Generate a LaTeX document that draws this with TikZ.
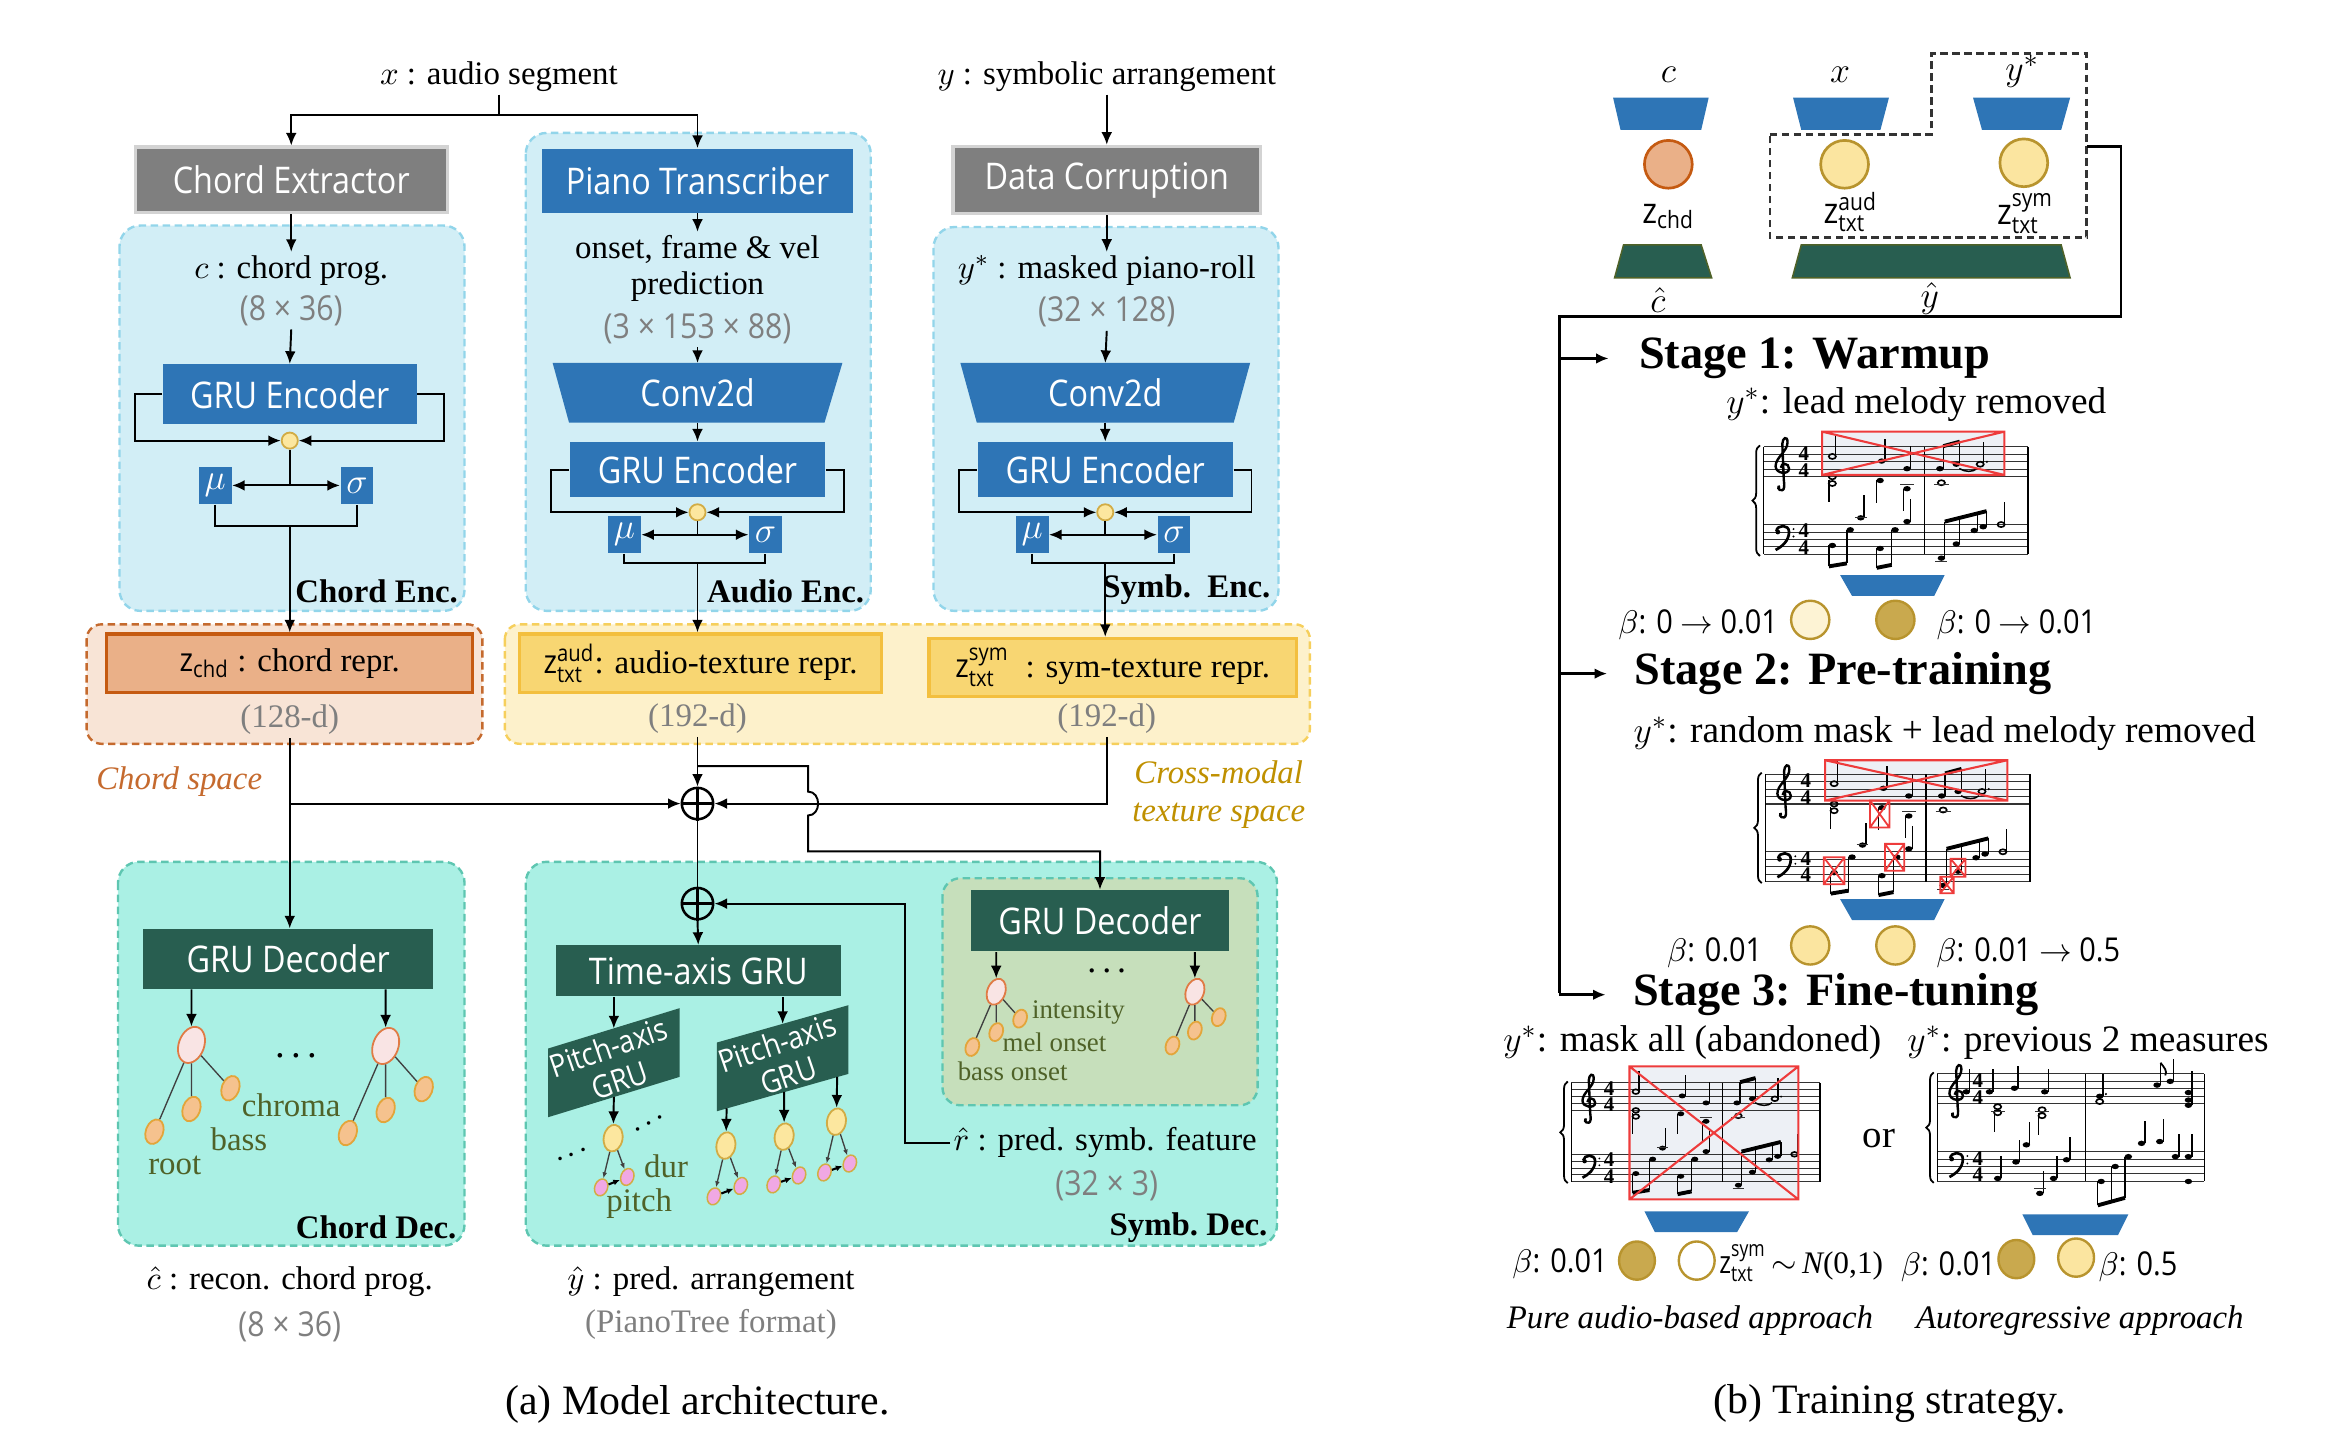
\documentclass[tikz,border=0pt]{standalone}
\usepackage{amsmath}
\usepackage{fontspec}
\setmainfont{Liberation Serif}
\newfontfamily\sg{Open Sans}[FakeStretch=0.88]
\newfontfamily\sgc{Open Sans}[FakeStretch=0.8]
\usetikzlibrary{arrows.meta,decorations.pathreplacing,shapes.geometric,calc}

\definecolor{cgray}{HTML}{7F7F7F}
\definecolor{cgrayb}{HTML}{D3D3D3}
\definecolor{cblue}{HTML}{2E75B6}
\definecolor{encfill}{HTML}{D2EEF6}
\definecolor{encline}{HTML}{92D5EA}
\definecolor{chdfill}{HTML}{F8E4D6}
\definecolor{chdline}{HTML}{C56A2E}
\definecolor{chdbox}{HTML}{EAB088}
\definecolor{chdboxb}{HTML}{C55A11}
\definecolor{txtfill}{HTML}{FDF1CB}
\definecolor{txtline}{HTML}{F6CF5C}
\definecolor{txtbox}{HTML}{F8D672}
\definecolor{txtboxb}{HTML}{F3BF3E}
\definecolor{decfill}{HTML}{AAF0E4}
\definecolor{decline}{HTML}{5EC6B1}
\definecolor{dgreen}{HTML}{285E50}
\definecolor{innerfill}{HTML}{C6DFBB}
\definecolor{rootfill}{HTML}{F9E4E4}
\definecolor{rootline}{HTML}{E07B45}
\definecolor{leaffill}{HTML}{F5C28E}
\definecolor{leafline}{HTML}{E3A53A}
\definecolor{notefill}{HTML}{FCE79F}
\definecolor{noteline}{HTML}{D2AC45}
\definecolor{pinkfill}{HTML}{F0A8E4}
\definecolor{olive}{HTML}{4F6228}
\definecolor{goldtxt}{HTML}{BF9000}
\definecolor{dimgray}{HTML}{7F7F7F}
\definecolor{goldc}{HTML}{C9A94E}
\definecolor{goldcb}{HTML}{B8942E}
\definecolor{paley}{HTML}{FDF3D4}
\definecolor{midy}{HTML}{FBE5A0}
\definecolor{redx}{HTML}{EE3B3B}
\definecolor{maskfill}{HTML}{EDF0F5}

\tikzset{
 ln/.style={line width=0.65pt},
 arr/.style={ln,-{Latex[length=4.2pt,width=3.6pt]}},
 bfont/.style={font=\sg\fontsize{12.3}{14}\selectfont},
 graybox/.style={bfont, fill=cgray, draw=cgrayb, line width=1.1pt, text=white, inner sep=0},
 bluebox/.style={bfont, fill=cblue, text=white, inner sep=0},
 greenbox/.style={bfont, fill=dgreen, text=white, inner sep=0},
 txt/.style={font=\fontsize{11}{13}\selectfont, inner sep=1pt},
 dim/.style={font=\sg\fontsize{11.5}{13}\selectfont, text=dimgray, inner sep=1pt},
 sdim/.style={font=\fontsize{11}{13}\selectfont, text=dimgray, inner sep=1pt},
 blabel/.style={font=\bfseries\fontsize{11}{13}\selectfont, inner sep=1pt},
 encpanel/.style={fill=encfill, draw=encline, dash pattern=on 2.5pt off 1.5pt, line width=0.8pt, rounded corners=7pt},
 chdpanel/.style={fill=chdfill, draw=chdline, dash pattern=on 2.5pt off 1.5pt, line width=0.8pt, rounded corners=5pt},
 txtpanel/.style={fill=txtfill, draw=txtline, dash pattern=on 2.5pt off 1.5pt, line width=0.8pt, rounded corners=5pt},
 decpanel/.style={fill=decfill, draw=decline, dash pattern=on 2.5pt off 1.5pt, line width=0.8pt, rounded corners=7pt},
 innerpanel/.style={fill=innerfill, draw=decline, dash pattern=on 2.5pt off 1.5pt, line width=0.8pt, rounded corners=6pt},
 dotc/.style={circle, fill=notefill, draw=noteline, line width=0.6pt, minimum size=5.4pt, inner sep=0},
 musig/.style={fill=cblue, text=white, minimum width=11pt, minimum height=12.5pt, inner sep=0, font=\fontsize{13}{13}\selectfont},
 zchdbox/.style={fill=chdbox, draw=chdboxb, line width=1.1pt, inner sep=0, font=\fontsize{11}{13}\selectfont},
 ztxtbox/.style={fill=txtbox, draw=txtboxb, line width=1.1pt, inner sep=0, font=\fontsize{11}{13}\selectfont},
 oplus/.style={circle, draw, line width=0.85pt, minimum size=10.5pt, inner sep=0},
 rootn/.style={ellipse, fill=rootfill, draw=rootline, line width=0.6pt, minimum width=8.5pt, minimum height=12.5pt, inner sep=0, rotate=-20},
 leafn/.style={ellipse, fill=leaffill, draw=leafline, line width=0.6pt, minimum width=5.8pt, minimum height=8.5pt, inner sep=0, rotate=-20},
 srootn/.style={rootn, minimum width=6pt, minimum height=9pt},
 sleafn/.style={leafn, minimum width=4.4pt, minimum height=6.2pt},
 yn/.style={ellipse, fill=notefill, draw=noteline, line width=0.6pt, minimum width=6.3pt, minimum height=9pt, inner sep=0, rotate=-10},
 pn/.style={ellipse, fill=pinkfill, draw=noteline, line width=0.5pt, minimum width=4.3pt, minimum height=5.8pt, inner sep=0, rotate=-20},
 tline/.style={line width=0.45pt, draw=black!75},
 olab/.style={text=olive, inner sep=0, font=\fontsize{11}{12}\selectfont},
 slab/.style={text=olive, inner sep=0, font=\fontsize{9}{10}\selectfont},
 stage/.style={font=\bfseries\fontsize{15.5}{17}\selectfont, inner sep=0, anchor=west},
 rtxt/.style={font=\fontsize{12.5}{14}\selectfont, inner sep=1pt},
 beta/.style={font=\sg\fontsize{11}{13}\selectfont, inner sep=0},
 bigc/.style={circle, minimum size=16pt, line width=0.9pt, inner sep=0},
 smc/.style={circle, minimum size=12.8pt, line width=0.8pt, inner sep=0},
 smce/.style={ellipse, minimum width=12pt, minimum height=12.8pt, line width=0.8pt, inner sep=0},
 staffln/.style={line width=0.35pt, draw=black!80},
 barln/.style={line width=0.5pt},
 stemln/.style={line width=0.45pt},
 tsig/.style={font=\bfseries\fontsize{7}{4.6}\selectfont, inner sep=0, align=center},
 redln/.style={draw=redx, line width=0.7pt},
}

\newcommand\mnF[2]{\fill (#1,#2) ellipse [x radius=2.5, y radius=1.8];}
\newcommand\mnU[2]{\mnF{#1}{#2}\draw[stemln] (#1,#2) ++(2.3,0) -- ++(0,-15);}
\newcommand\mnD[2]{\mnF{#1}{#2}\draw[stemln] (#1,#2) ++(-2.3,0) -- ++(0,15);}
\newcommand\mnO[2]{\draw[line width=0.55pt] (#1,#2) ellipse [x radius=2.4, y radius=1.7];}
\newcommand\mnOU[2]{\mnO{#1}{#2}\draw[stemln] (#1,#2) ++(2.3,0) -- ++(0,-15);}

\newcommand\grandstaff[2]{%
 \foreach \ii in {0,...,4}{\draw[staffln] (0,\ii*5) -- (#1,\ii*5); \draw[staffln] (0,52+\ii*5) -- (#1,52+\ii*5);}
 \draw[barln] (0,0) -- (0,72); \draw[barln] (#2,0) -- (#2,72); \draw[barln] (#1,0) -- (#1,72);
 \draw[decorate, decoration={brace, amplitude=2.5pt}, line width=0.6pt] (-2.5,73) -- (-2.5,-1);
 \draw[line width=0.8pt] (11,26.5) .. controls (9,26) and (9.5,29.5) .. (12.5,29) .. controls (14,28.5) and (14,26) .. (13.5,22) -- (12.5,-2) .. controls (12.5,-6) and (16,-8) .. (16,-3) .. controls (16,3) and (8,7) .. (8,13) .. controls (8,18) and (17,19) .. (17,14.5) .. controls (17,10.5) and (11.5,10.5) .. (11.5,14);
 \fill (9.5,57) circle [radius=1.6];
 \draw[line width=0.9pt] (8.5,56.5) .. controls (9,52) and (17,51.5) .. (17,57) .. controls (17,63) and (12,67) .. (8,69);
 \fill (20,55) circle [radius=0.7]; \fill (20,60) circle [radius=0.7];
 \node[tsig] (tsa) at (27,10) {4\\4};
 \node[tsig] (tsc) at (27,62) {4\\4};
}

\newcommand\scoreA{%
 \grandstaff{177}{107.6}
 \mnOU{46}{6.4}
 \mnU{79}{9.5}
 \mnU{96}{14.6}
 \mnF{118}{14.6}\mnF{129}{11.6}
 \draw[stemln] (120.3,14.6) -- (120.3,-0.5); \draw[stemln] (131.3,11.6) -- (131.3,-3.5);
 \draw[line width=1.3pt] (120.3,-0.5) -- (131.3,-3.5);
 \mnOU{145}{11.6}\fill (149.5,10) circle [radius=0.8];
 \draw[line width=0.5pt] (131,14.5) .. controls (135,17) and (140,17) .. (143,14.5);
 \mnO{46}{20}\mnO{46}{24.5}\draw[stemln] (43.7,22) -- (43.7,37);
 \mnD{78}{22.5}
 \mnD{96}{28}\draw[staffln] (91.5,25) -- (100.5,25);
 \mnO{119}{24}\draw[staffln] (114,25) -- (124,25);
 \mnF{46}{66}\mnF{58}{55.5}
 \draw[stemln] (43.7,66) -- (43.7,80); \draw[stemln] (55.7,55.5) -- (55.7,78);
 \draw[line width=1.3pt] (43.7,80) -- (55.7,78);
 \mnU{65}{47.5}\draw[staffln] (61,47) -- (69,47);
 \mnF{78}{68}\mnF{88}{55.5}
 \draw[stemln] (75.7,68) -- (75.7,81); \draw[stemln] (85.7,55.5) -- (85.7,79);
 \draw[line width=1.3pt] (75.7,81) -- (85.7,79);
 \mnU{96}{50}
 \mnF{119}{74.5}\draw[staffln] (115,77) -- (123,77);
 \mnF{129}{65}\mnF{141}{56}\mnF{147}{53.5}
 \draw[stemln] (121.3,74.5) -- (121.3,50); \draw[stemln] (131.3,65) -- (131.3,47.5);
 \draw[stemln] (143.3,56) -- (143.3,44.5); \draw[stemln] (149.3,53.5) -- (149.3,43);
 \draw[line width=1.3pt] (121.3,50) -- (149.3,43);
 \mnOU{159}{52}
}

\newcommand\scoreB{%
 \grandstaff{178.6}{99}
 \mnU{19.3}{12}\mnU{34.8}{12}\mnU{51.5}{9.6}\mnU{71.8}{12}
 \mnO{40.3}{22}\mnO{40.3}{26}\draw[stemln] (38,24) -- (38,39); \draw[staffln] (36,25) -- (45,25);
 \mnO{70}{24}\mnO{70}{28}\draw[stemln] (67.7,26) -- (67.7,41); \draw[staffln] (65.5,25) -- (74.5,25);
 \mnU{108.6}{15}\mnO{108.6}{18.5}\fill (112.8,13.5) circle [radius=0.8];
 \mnU{147}{7.5}\draw[line width=0.6pt] (149.3,-7.5) .. controls (152,-4) and (154,-2) .. (152.5,1);
 \mnU{155.8}{5}
 \mnF{168}{12.5}\mnF{168}{17.5}\mnF{168}{21}\draw[stemln] (170.3,21) -- (170.3,-2);
 \mnU{40.3}{70}\mnU{52.5}{59}\mnU{59.5}{47.5}
 \mnU{68.5}{80}\draw[staffln] (64.5,77) -- (72.5,77);
 \mnU{77.7}{70}\mnU{86.4}{57.5}
 \mnF{109.6}{72}\mnF{119}{62}\mnF{127.8}{55.4}
 \draw[stemln] (107.3,72) -- (107.3,88); \draw[stemln] (116.7,62) -- (116.7,85.5); \draw[stemln] (125.5,55.4) -- (125.5,83);
 \draw[line width=1.3pt] (107.3,88) -- (125.5,83);
 \mnU{136.6}{46.5}\mnU{148.8}{45.3}
 \mnU{159.3}{55.4}\mnU{168}{55.4}\mnF{168}{72}
}

\begin{document}
\begin{tikzpicture}[x=0.5pt,y=-0.5pt]
\useasboundingbox (0,0) rectangle (1560,969.5);

% ================= (a) panels =================
\draw[encpanel] (80,151) rectangle (311,409);
\draw[encpanel] (352,89) rectangle (583,409);
\draw[encpanel] (625,152) rectangle (856,409);
\draw[chdpanel] (58,418) rectangle (323,498);
\draw[txtpanel] (338,418) rectangle (877,498);
\draw[decpanel] (79,577) rectangle (311,834);
\draw[decpanel] (352,577) rectangle (855,834);
\draw[innerpanel] (631,588) rectangle (842,740);

% inputs
\node[txt] (xin) at (334,51) {$x$ : audio segment};
\node[txt] (yin) at (741,51) {$y$ : symbolic arrangement};
\node[graybox, minimum width=104.5pt, minimum height=22pt] (ce) at (195,120.5) {Chord Extractor};
\node[bluebox, minimum width=104pt, minimum height=21.5pt] (ptr) at (467,121) {Piano Transcriber};
\node[graybox, minimum width=103pt, minimum height=22.5pt] (dc) at (741,120.5) {Data Corruption};
\draw[ln] (xin.south) -- (334,77) coordinate (xj);
\draw[arr] (xj) -| (ce.north);
\draw[arr] (xj) -| (ptr.north);
\draw[arr] (yin.south) -- (dc.north);

% chord encoder
\node[txt] (cprog) at (195,181) {$c$ : chord prog.};
\node[dim] (cdim) at (195,208) {(8 × 36)};
\draw[arr] (ce.south) -- (cprog.north);
\node[bluebox, minimum width=85pt, minimum height=20pt] (gruC) at (194,264) {GRU Encoder};
\draw[arr] (cdim.south) -- (gruC.north);
\node[dotc] (cC) at (194,295) {};
\draw[arr] (gruC.west) -- ++(-18,0) |- (cC.west);
\draw[arr] (gruC.east) -- ++(18,0) |- (cC.east);
\node[musig] (muC) at (144,325) {$\mu$};
\node[musig] (sgC) at (239,325) {$\sigma$};
\draw[ln] (cC.south) -- (194,325) coordinate (jC);
\draw[arr] (jC) -- (muC.east);
\draw[arr] (jC) -- (sgC.west);
\draw[ln] (muC.south) -- ++(0,14) -| (sgC.south);
\coordinate (jC2) at (194,351.5);
\node[blabel, anchor=east] (lce) at (309,396) {Chord Enc.};

% audio encoder
\node[txt] (ofv) at (467,167) {onset, frame \& vel};
\node[txt] (pred) at (467,192) {prediction};
\node[dim] (adim) at (467,220) {(3 × 153 × 88)};
\draw[arr] (ptr.south) -- (ofv.north);
\fill[cblue] (370,243) -- (564,243) -- (552,283) -- (381,283) -- cycle;
\node[bfont, text=white, inner sep=0] (cv1) at (467,263) {Conv2d};
\coordinate (cv1t) at (467,243); \coordinate (cv1b) at (467,283);
\draw[arr] (adim.south) -- (cv1t);
\node[bluebox, minimum width=85.5pt, minimum height=18.5pt] (gruA) at (467,314.5) {GRU Encoder};
\draw[arr] (cv1b) -- (gruA.north);
\node[dotc] (cA) at (467,343) {};
\draw[arr] (gruA.west) -- ++(-12,0) |- (cA.west);
\draw[arr] (gruA.east) -- ++(12,0) |- (cA.east);
\node[musig] (muA) at (418,358) {$\mu$};
\node[musig] (sgA) at (512.5,358) {$\sigma$};
\draw[ln] (cA.south) -- (467,358) coordinate (jA);
\draw[arr] (jA) -- (muA.east);
\draw[arr] (jA) -- (sgA.west);
\draw[ln] (muA.south) -- ++(0,6) -| (sgA.south);
\coordinate (jA2) at (467,376.5);
\node[blabel, anchor=east] (lae) at (581,396) {Audio Enc.};

% symbolic encoder
\node[txt] (ymask) at (741,181) {$y^*$ : masked piano-roll};
\node[dim] (sdim) at (741,209) {(32 × 128)};
\draw[arr] (dc.south) -- (ymask.north);
\fill[cblue] (643,243) -- (837,243) -- (826,283) -- (654,283) -- cycle;
\node[bfont, text=white, inner sep=0] (cv2) at (740,263) {Conv2d};
\coordinate (cv2t) at (740,243); \coordinate (cv2b) at (740,283);
\draw[arr] (sdim.south) -- (cv2t);
\node[bluebox, minimum width=85.5pt, minimum height=18.5pt] (gruS) at (740,314.5) {GRU Encoder};
\draw[arr] (cv2b) -- (gruS.north);
\node[dotc] (cS) at (740,343) {};
\draw[arr] (gruS.west) -- ++(-12,0) |- (cS.west);
\draw[arr] (gruS.east) -- ++(12,0) |- (cS.east);
\node[musig] (muS) at (691,358) {$\mu$};
\node[musig] (sgS) at (786,358) {$\sigma$};
\draw[ln] (cS.south) -- (740,358) coordinate (jS);
\draw[arr] (jS) -- (muS.east);
\draw[arr] (jS) -- (sgS.west);
\draw[ln] (muS.south) -- ++(0,6) -| (sgS.south);
\coordinate (jS2) at (740,376.5);
\node[blabel, anchor=east] (lse) at (853,395) {Symb.\ \ Enc.};

% representations
\node[zchdbox, minimum width=122.5pt, minimum height=19.5pt] (zchd) at (194,444) {{\sg z}$_{\text{\sg chd}}$ : chord repr.};
\node[sdim] (dchd) at (194,482) {(128-d)};
\node[ztxtbox, minimum width=121pt, minimum height=19.5pt] (zaud) at (469,444) {{\sg z}$^{\text{\sg aud}}_{\text{\sg txt}}$: audio-texture repr.};
\node[ztxtbox, minimum width=123pt, minimum height=19.5pt] (zsym) at (745,447) {{\sg z}$^{\text{\sg sym}}_{\text{\sg txt}}$\ \ : sym-texture repr.};
\node[sdim] (daud) at (467,481) {(192-d)};
\node[sdim] (dsym) at (741,481) {(192-d)};
\draw[arr] (jC2) -- (zchd.north);
\draw[arr] (jA2) -- (zaud.north -| jA2);
\draw[arr] (jS2) -- (zsym.north -| jS2);
\node[font=\itshape\fontsize{11}{13}\selectfont, text=chdline, inner sep=0] (csp) at (120,523) {Chord space};
\node[font=\itshape\fontsize{11}{13}\selectfont, text=goldtxt, inner sep=0, align=center] (cms) at (816,532) {Cross-modal\\texture space};

% fusion
\node[oplus] (op1) at (467,538) {};
\draw[line width=0.85pt] (op1.north) -- (op1.south) (op1.west) -- (op1.east);
\node[oplus] (op2) at (467,605) {};
\draw[line width=0.85pt] (op2.north) -- (op2.south) (op2.west) -- (op2.east);

% decoders
\node[greenbox, minimum width=97pt, minimum height=20pt] (gdC) at (193,642) {GRU Decoder};
\node[greenbox, minimum width=95.5pt, minimum height=17pt] (tg) at (467.5,650) {Time-axis GRU};
\node[greenbox, minimum width=86.5pt, minimum height=20.5pt] (gdS) at (736.5,616.5) {GRU Decoder};

\draw[arr] (dchd.south) -- (gdC.north -| dchd.south);
\draw[arr] (dchd.south |- op1.west) -- (op1.west);
\draw[arr] (daud.south) -- (op1.north);
\coordinate (b1) at (467,513);
\draw[arr] (b1) -- (541,513) -- (541,530) .. controls (550,530) and (550,546) .. (541,546) -- (541,570) -| (gdS.north);
\draw[arr] (dsym.south) |- (op1.east);
\draw[ln] (op1.south) -- (op2.north);
\draw[arr] (op2.south) -- (tg.north);

% chord decoder trees
\node[rootn] (r1) at (128.2,699.6) {};
\node[leafn] (l11) at (103.4,757.7) {};
\node[leafn] (l12) at (128.2,742.5) {};
\node[leafn] (l13) at (154.3,728.6) {};
\node[rootn] (r2) at (258.2,700.3) {};
\node[leafn] (l21) at (232.9,758.6) {};
\node[leafn] (l22) at (258.2,743.2) {};
\node[leafn] (l23) at (283.7,729.2) {};
\draw[arr] (gdC.south -| r1) -- (r1);
\draw[arr] (gdC.south -| r2) -- (r2);
\foreach \a/\b in {r1/l11,r1/l12,r1/l13,r2/l21,r2/l22,r2/l23}{\draw[tline] (\a) -- (\b);}
\node[font=\fontsize{13}{13}\selectfont, inner sep=0] (dt1) at (198.4,707) {.\,.\,.};
\node[olab] (lchroma) at (195,740) {chroma};
\node[olab] (lbass) at (160,763) {bass};
\node[olab] (lroot) at (117,780) {root};
\node[blabel, anchor=east] (lcd) at (308,822) {Chord Dec.};

% pitch-axis GRUs
\fill[dgreen] (367,702) -- (455,675) -- (455,721) -- (367,748) -- cycle;
\fill[dgreen] (480,698) -- (568,673) -- (568,719) -- (480,744) -- cycle;
\node[font=\sg\fontsize{10.5}{11.5}\selectfont, text=white, align=center, rotate=19, inner sep=0] (pa1) at (411,712) {Pitch-axis\\GRU};
\node[font=\sg\fontsize{10.5}{11.5}\selectfont, text=white, align=center, rotate=19, inner sep=0] (pa2) at (524,709) {Pitch-axis\\GRU};
\coordinate (p1t) at (411,688.5); \coordinate (p2t) at (524,685.5);
\draw[arr] (tg.south -| p1t) -- (p1t);
\draw[arr] (tg.south -| p2t) -- (p2t);
% piano-tree notes
\node[yn] (ya) at (410.5,762) {};
\node[pn] (pa) at (402.5,795) {}; \node[pn] (qa) at (420,788) {};
\node[yn] (yb) at (486,767) {};
\node[pn] (pb) at (478,801) {}; \node[pn] (qb) at (496,794) {};
\node[yn] (yc) at (525,761) {};
\node[pn] (pc) at (518,793) {}; \node[pn] (qc) at (535,787) {};
\node[yn] (yd) at (560,751) {};
\node[pn] (pd) at (552,785) {}; \node[pn] (qd) at (569,779) {};
\coordinate (s1b) at (411,734.5);
\coordinate (s2a) at (486.5,742); \coordinate (s2b) at (525,731); \coordinate (s2c) at (560.5,721);
\draw[arr] (s1b) -- (ya);
\draw[arr] (s2a) -- (yb);
\draw[arr] (s2b) -- (yc);
\draw[arr] (s2c) -- (yd);
\foreach \y/\p/\q in {ya/pa/qa,yb/pb/qb,yc/pc/qc,yd/pd/qd}{
  \draw[tline, -{Latex[length=2pt,width=1.6pt]}] (\y) -- (\p);
  \draw[tline, -{Latex[length=2pt,width=1.6pt]}] (\y) -- (\q);
  \draw[line width=0.7pt, -{Latex[length=2.2pt,width=2pt]}] (\p) -- (\q);
}
\node[font=\fontsize{10}{10}\selectfont, rotate=30, inner sep=0] (dt2) at (434.6,752) {.\,.\,.};
\node[font=\fontsize{10}{10}\selectfont, rotate=20, inner sep=0] (dt3) at (383,773) {.\,.\,.};
\node[olab] (ldur) at (446,781) {dur};
\node[olab] (lpitch) at (428,806) {pitch};

% symbolic feature decoder
\node[srootn] (sr1) at (667,664) {};
\node[sleafn] (sl11) at (651,701) {};
\node[sleafn] (sl12) at (667,691) {};
\node[sleafn] (sl13) at (683,682) {};
\node[srootn] (sr2) at (800,664) {};
\node[sleafn] (sl21) at (785,700) {};
\node[sleafn] (sl22) at (800,690) {};
\node[sleafn] (sl23) at (816,681) {};
\draw[arr] (gdS.south -| sr1) -- (sr1);
\draw[arr] (gdS.south -| sr2) -- (sr2);
\foreach \a/\b in {sr1/sl11,sr1/sl12,sr1/sl13,sr2/sl21,sr2/sl22,sr2/sl23}{\draw[tline] (\a) -- (\b);}
\node[font=\fontsize{12}{12}\selectfont, inner sep=0] (dt4) at (741,650) {.\,.\,.};
\node[slab] (lint) at (722,678) {intensity};
\node[slab] (lmel) at (706,698) {mel onset};
\node[slab] (lbon) at (678,717) {bass onset};

\node[txt] (rhat) at (740,765) {$\hat{r}$ : pred. symb. feature};
\node[dim] (rhatd) at (741,794) {(32 × 3)};
\draw[arr] (rhat.west) -- ++(-30,0) |- (op2.east);
\node[blabel, anchor=east] (lsd) at (851,822) {Symb.\ Dec.};

% outputs
\node[txt] (chat) at (194,858) {$\hat{c}$ : recon. chord prog.};
\node[dim] (chatd) at (194,888) {(8 × 36)};
\node[txt] (yhat) at (476,858) {$\hat{y}$ : pred. arrangement};
\node[sdim] (yhatd) at (476,887) {(PianoTree format)};
\node[font=\fontsize{14}{16}\selectfont, inner sep=0] (capa) at (467,940) {(a) Model architecture.};
\node[font=\fontsize{14}{16}\selectfont, inner sep=0] (capb) at (1265,940) {(b) Training strategy.};

% ================= (b) =================
\node[font=\fontsize{12.5}{13}\selectfont, inner sep=0] (tc) at (1117,50) {$c$};
\node[font=\fontsize{12.5}{13}\selectfont, inner sep=0] (tx) at (1232,50) {$x$};
\node[font=\fontsize{12.5}{13}\selectfont, inner sep=0] (ty) at (1354,48) {$y^*$};
\fill[cblue] (1080,65.4) -- (1144,65.4) -- (1139,87) -- (1085,87) -- cycle;
\fill[cblue] (1200.5,65.4) -- (1264.7,65.4) -- (1259,87) -- (1206,87) -- cycle;
\fill[cblue] (1321,65.4) -- (1386,65.4) -- (1380,87) -- (1327,87) -- cycle;
\node[bigc, fill=chdbox, draw=chdboxb] (zc) at (1117,110) {};
\node[bigc, fill=midy, draw=goldcb] (za) at (1235,110) {};
\node[bigc, fill=midy, draw=goldcb] (zs) at (1355,109) {};
\node[font=\sg\fontsize{12}{13}\selectfont, inner sep=0] (lzc) at (1117,145) {z$_{\text{\sg chd}}$};
\node[font=\sg\fontsize{12}{13}\selectfont, inner sep=0] (lza) at (1239,142) {z$^{\text{\sg aud}}_{\text{\sg txt}}$};
\node[font=\sg\fontsize{12}{13}\selectfont, inner sep=0] (lzs) at (1356,143) {z$^{\text{\sg sym}}_{\text{\sg txt}}$};
\filldraw[fill=dgreen, draw=olive, line width=0.5pt] (1087,164) -- (1139,164) -- (1146,186) -- (1081,186) -- cycle;
\filldraw[fill=dgreen, draw=olive, line width=0.5pt] (1206,164) -- (1380,164) -- (1386,186) -- (1200,186) -- cycle;
\node[font=\fontsize{12.5}{13}\selectfont, inner sep=0] (tch) at (1110,201) {$\hat{c}$};
\node[font=\fontsize{12.5}{13}\selectfont, inner sep=0] (tyh) at (1292,200) {$\hat{y}$};
\draw[draw=black!80, dash pattern=on 2.5pt off 1.5pt, line width=0.9pt] (1185,90) -- (1293,90) -- (1293,36) -- (1397,36) -- (1397,159) -- (1185,159) -- cycle;
\coordinate (fbo) at (1397,98);
\coordinate (fbx) at (1044,212);
\draw[line width=0.9pt] (fbo) -- (1420,98) -- (1420,212) -- (fbx) -- (1044,665);

\node[stage] (st1) at (1097,240) {Stage 1: Warmup};
\node[stage] (st2) at (1094,451) {Stage 2: Pre-training};
\node[stage] (st3) at (1093,666) {Stage 3: Fine-tuning};
\draw[arr, line width=0.9pt] (st1.west -| fbx) -- ([xshift=-10pt]st1.west);
\draw[arr, line width=0.9pt] (st2.west -| fbx) -- ([xshift=-9pt]st2.west);
\draw[arr, line width=0.9pt] (st3.west -| fbx) -- ([xshift=-9pt]st3.west);

\node[rtxt] (s1t) at (1283,271) {$y^*$: lead melody removed};
\node[rtxt] (s2t) at (1302,491) {$y^*$: random mask + lead melody removed};
\node[rtxt] (s3a) at (1133,698) {$y^*$: mask all (abandoned)};
\node[rtxt] (s3b) at (1398,698) {$y^*$: previous 2 measures};

% masks (fills behind)
\fill[maskfill] (1220,289) rectangle (1342,318);
\fill[maskfill] (1222,509) rectangle (1344,536);
\fill[maskfill] (1091,714) rectangle (1204,803);

% scores
\begin{scope}[shift={(1180.8,299.2)}] \scoreA \end{scope}
\begin{scope}[shift={(1182,518.3)}] \scoreA \end{scope}
\begin{scope}[shift={(1052,725)}, xscale=0.94, yscale=0.92] \scoreA \end{scope}
\begin{scope}[shift={(1297.2,719)}] \scoreB \end{scope}
\node[font=\fontsize{13}{14}\selectfont, inner sep=0] (tor) at (1258,762) {or};

% red crosses
\draw[redln] (1220,289) rectangle (1342,318) (1220,289) -- (1342,318) (1220,318) -- (1342,289);
\draw[redln] (1222,509) rectangle (1344,536) (1222,509) -- (1344,536) (1222,536) -- (1344,509);
\draw[redln] (1091,714) rectangle (1204,803) (1091,714) -- (1204,803) (1091,803) -- (1204,714);
\foreach \xa/\ya/\xb/\yb in {1252/536/1265/554, 1221/574/1235/592, 1262/565/1275/583, 1306/575/1316/587, 1299/587/1308/598}{
  \draw[redln, line width=0.6pt] (\xa,\ya) rectangle (\xb,\yb) (\xa,\ya) -- (\xb,\yb) (\xa,\yb) -- (\xb,\ya);
}

% encoders under scores
\fill[cblue] (1232,385) -- (1302,385) -- (1295,399) -- (1240,399) -- cycle;
\fill[cblue] (1232,602) -- (1302,602) -- (1295,616) -- (1240,616) -- cycle;
\fill[cblue] (1101,811) -- (1171,811) -- (1163,825) -- (1108,825) -- cycle;
\fill[cblue] (1354,813) -- (1425,813) -- (1418,827) -- (1361,827) -- cycle;

% beta rows
\node[beta] (b1l) at (1137,418) {$\beta$: 0 $\rightarrow$ 0.01};
\node[smc, fill=paley, draw=goldcb] (c1a) at (1212,415) {};
\node[smc, fill=goldc, draw=goldcb] (c1b) at (1269,415) {};
\node[beta] (b1r) at (1350,418) {$\beta$: 0 $\rightarrow$ 0.01};
\node[beta] (b2l) at (1148,638) {$\beta$: 0.01};
\node[smc, fill=midy, draw=goldcb] (c2a) at (1212,633) {};
\node[smc, fill=midy, draw=goldcb] (c2b) at (1269,633) {};
\node[beta] (b2r) at (1358,638) {$\beta$: 0.01 $\rightarrow$ 0.5};
\node[beta] (b3l) at (1044.5,846) {$\beta$: 0.01};
\node[smce, fill=goldc, draw=goldcb] (c3a) at (1096,844) {};
\node[smce, fill=white, draw=goldcb] (c3b) at (1136,844) {};
\node[font=\sgc\fontsize{10.5}{12}\selectfont, inner sep=0] (b3n) at (1206,846) {z$^{\text{\sgc sym}}_{\text{\sgc txt}}$\,$\sim$\,{\fontsize{10.5}{12}\selectfont\rmfamily\itshape N}{\rmfamily(0,1)}};
\node[beta] (b4l) at (1304.5,848) {$\beta$: 0.01};
\node[smce, fill=goldc, draw=goldcb] (c4a) at (1350,843) {};
\node[smce, fill=midy, draw=goldcb] (c4b) at (1390,842) {};
\node[beta] (b4r) at (1431.5,848) {$\beta$: 0.5};
\node[font=\itshape\fontsize{11}{13}\selectfont, inner sep=0] (appa) at (1131.5,884) {Pure audio-based approach};
\node[font=\itshape\fontsize{11}{13}\selectfont, inner sep=0] (appb) at (1392.5,884) {Autoregressive approach};
\end{tikzpicture}
\end{document}
